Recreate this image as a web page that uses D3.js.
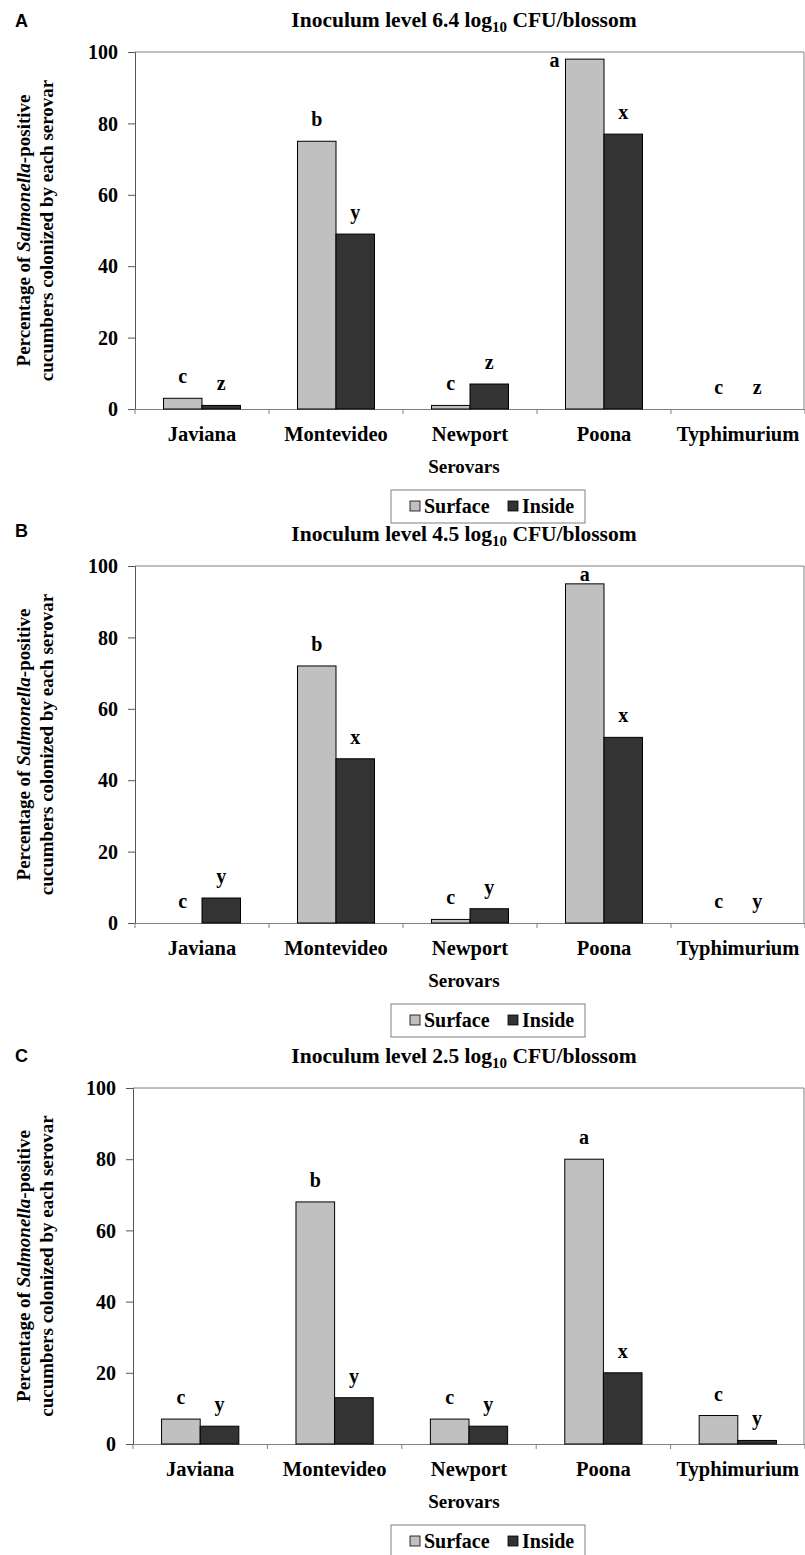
<!DOCTYPE html>
<html lang="en">
<head>
<meta charset="utf-8">
<style type="text/css">
    body { margin: 0; background: #fff; }
    svg { display: block; }
    .serif { font-family: "Liberation Serif", "Times New Roman", serif; font-weight: bold; fill: #000; }
    .panel_label { font-family: "Liberation Sans", Arial, sans-serif; font-weight: bold; font-size: 18px; fill: #000; }
    .tick_text { font-size: 20px; }
    .cat_text { font-size: 20.5px; }
    .bar_label { font-size: 20px; }
</style>
</head>
<body>
<div id="graph"></div>
<script src="https://cdn.jsdelivr.net/npm/d3@7/dist/d3.min.js"></script>
<script type="text/javascript">
// ---- data ----
var serovars = ["Javiana", "Montevideo", "Newport", "Poona", "Typhimurium"];
var series = ["Surface", "Inside"];
var panelLetters = ["A", "B", "C"];
var inoculumLevels = ["6.4", "4.5", "2.5"];
var yTicks = [0, 20, 40, 60, 80, 100];

var surfaceA = [3, 75, 1, 98, 0];
var insideA  = [1, 49, 7, 77, 0];
var surfaceB = [0, 72, 1, 95, 0];
var insideB  = [7, 46, 4, 52, 0];
var surfaceC = [7, 68, 7, 80, 8];
var insideC  = [5, 13, 5, 20, 1];

var lettersSurfaceA = ["c", "b", "c", "a", "c"];
var lettersInsideA  = ["z", "y", "z", "x", "z"];
var lettersSurfaceB = ["c", "b", "c", "a", "c"];
var lettersInsideB  = ["y", "x", "y", "x", "y"];
var lettersSurfaceC = ["c", "b", "c", "a", "c"];
var lettersInsideC  = ["y", "y", "y", "x", "y"];

var panelData = [
    {surface: surfaceA, inside: insideA, ls: lettersSurfaceA, li: lettersInsideA},
    {surface: surfaceB, inside: insideB, ls: lettersSurfaceB, li: lettersInsideB},
    {surface: surfaceC, inside: insideC, ls: lettersSurfaceC, li: lettersInsideC}
];

// ---- layout ----
var W = 805, H = 1555;
var panelTop = [52, 566, 1088];
var panelBottom = [409, 923, 1444];
var panelLeft = [135, 135, 133];
var panelRight = 804;
var labelBaseline = [27, 537, 1062];
var colors = {Surface: "#c0c0c0", Inside: "#333333"};

var svg = d3.select("#graph").append("svg")
    .attr("width", W)
    .attr("height", H);

panelData.forEach(function(pd, i) {
    var top = panelTop[i], bottom = panelBottom[i], left = panelLeft[i];
    var g = svg.append("g");

    var x0 = d3.scaleBand().domain(serovars).range([left, panelRight + 1]).padding(0);
    var x1 = d3.scaleBand().domain(series).range([0, x0.bandwidth()]).paddingInner(0).paddingOuter(0.74);
    var y = d3.scaleLinear().domain([0, 100]).range([bottom, top]);

    // panel letter
    g.append("text").attr("class", "panel_label")
        .attr("x", 15).attr("y", labelBaseline[i]).text(panelLetters[i]);

    // title
    var title = g.append("text").attr("class", "serif")
        .attr("x", 464).attr("y", top - 25)
        .attr("text-anchor", "middle")
        .style("font-size", "21.5px");
    title.append("tspan").text("Inoculum level " + inoculumLevels[i] + " log");
    title.append("tspan").attr("dy", 5).style("font-size", "15px").text("10");
    title.append("tspan").attr("dy", -5).text(" CFU/blossom");

    // plot frame (top and right)
    g.append("path")
        .attr("d", "M" + left + "," + top + "H" + panelRight + "V" + bottom)
        .attr("fill", "none").attr("stroke", "#808080").attr("stroke-width", 1);

    // y axis
    var yAxis = g.append("g")
        .attr("transform", "translate(" + left + ",0)")
        .call(d3.axisLeft(y).tickValues(yTicks).tickSize(7).tickPadding(10));
    yAxis.select(".domain").attr("stroke", "#555");
    yAxis.selectAll(".tick line").attr("stroke", "#555");
    yAxis.selectAll("text").attr("class", "serif tick_text").attr("dy", "0.33em");
    yAxis.attr("font-family", null).attr("font-size", null);

    // x axis with ticks at category boundaries
    var xAxis = g.append("g")
        .attr("transform", "translate(0," + bottom + ")")
        .call(d3.axisBottom(x0).tickSize(0).tickPadding(17));
    xAxis.select(".domain").attr("stroke", "#808080");
    xAxis.attr("font-family", null).attr("font-size", null);
    xAxis.selectAll("text").attr("class", "serif cat_text");
    xAxis.selectAll(".bound")
        .data(serovars.concat(["end"]))
        .enter().append("line")
        .attr("class", "bound")
        .attr("x1", function(d, k) { return k < serovars.length ? x0(d) : x0(serovars[k - 1]) + x0.bandwidth(); })
        .attr("x2", function(d, k) { return k < serovars.length ? x0(d) : x0(serovars[k - 1]) + x0.bandwidth(); })
        .attr("y1", 0).attr("y2", 5)
        .attr("stroke", "#808080");

    // bars
    var rows = serovars.map(function(s, k) {
        return {serovar: s, values: [
            {key: "Surface", v: pd.surface[k], letter: pd.ls[k]},
            {key: "Inside", v: pd.inside[k], letter: pd.li[k]}
        ]};
    });
    var grp = g.selectAll(".grp").data(rows).enter().append("g")
        .attr("transform", function(d) { return "translate(" + x0(d.serovar) + ",0)"; });

    grp.selectAll("rect")
        .data(function(d) { return d.values.filter(function(e) { return e.v > 0; }); })
        .enter().append("rect")
        .attr("x", function(d) { return x1(d.key); })
        .attr("y", function(d) { return y(d.v); })
        .attr("width", x1.bandwidth())
        .attr("height", function(d) { return y(0) - y(d.v); })
        .attr("fill", function(d) { return colors[d.key]; })
        .attr("stroke", "#000").attr("stroke-width", 1);

    // significance letters, kept inside the plot area
    grp.selectAll(".bar_label")
        .data(function(d) { return d.values; })
        .enter().append("text")
        .attr("class", "serif bar_label")
        .attr("text-anchor", "middle")
        .attr("x", function(d) {
            return d.v > 96 ? x1(d.key) - 11 : x1(d.key) + x1.bandwidth() / 2;
        })
        .attr("y", function(d) { return Math.max(y(d.v) - 15, top + 15); })
        .text(function(d) { return d.letter; });

    // y axis title
    var yt = g.append("text").attr("class", "serif")
        .attr("transform", "translate(30," + ((top + bottom) / 2) + ") rotate(-90)")
        .attr("text-anchor", "middle")
        .style("font-size", "19px");
    yt.append("tspan").text("Percentage of ");
    yt.append("tspan").style("font-style", "italic").text("Salmonella");
    yt.append("tspan").text("-positive");
    g.append("text").attr("class", "serif")
        .attr("transform", "translate(53," + ((top + bottom) / 2) + ") rotate(-90)")
        .attr("text-anchor", "middle")
        .style("font-size", "19px")
        .text("cucumbers colonized by each serovar");

    // x axis title
    g.append("text").attr("class", "serif")
        .attr("x", 464).attr("y", bottom + 64)
        .attr("text-anchor", "middle")
        .style("font-size", "19px")
        .text("Serovars");

    // legend
    var ly = bottom + 81;
    var leg = g.append("g").attr("transform", "translate(391," + ly + ")");
    leg.append("rect").attr("width", 194).attr("height", 33)
        .attr("fill", "#fff").attr("stroke", "#808080");
    var items = leg.selectAll(".item").data(series).enter().append("g")
        .attr("transform", function(d, k) { return "translate(" + (k === 0 ? 19 : 117) + ",0)"; });
    items.append("rect")
        .attr("y", 11).attr("width", 10).attr("height", 10)
        .attr("fill", function(d) { return colors[d]; })
        .attr("stroke", "#000").attr("stroke-width", 0.8);
    items.append("text").attr("class", "serif")
        .attr("x", 14).attr("y", 23)
        .style("font-size", "20px")
        .text(function(d) { return d; });
});
</script>
</body>
</html>
